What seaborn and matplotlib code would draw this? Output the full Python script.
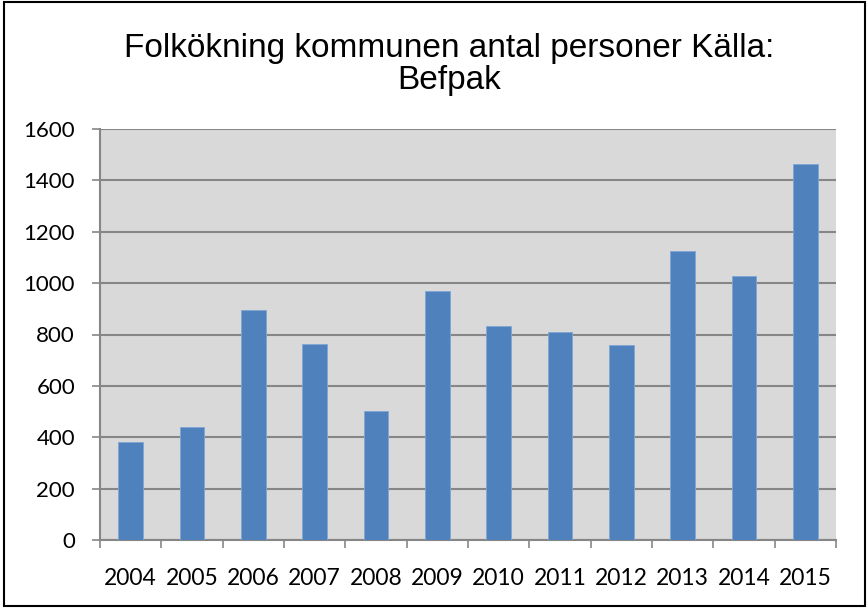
import matplotlib
matplotlib.use("Agg")
import matplotlib.pyplot as plt
import seaborn as sns
import pandas as pd
from matplotlib.patches import Rectangle
from matplotlib.ticker import FixedLocator

years = ["2004", "2005", "2006", "2007", "2008", "2009",
         "2010", "2011", "2012", "2013", "2014", "2015"]
values = [380, 438, 896, 764, 503, 969, 834, 809, 759, 1127, 1027, 1465]
yticks = [0, 200, 400, 600, 800, 1000, 1200, 1400, 1600]
title = "Folkökning kommunen antal personer Källa:\nBefpak"

sns.set_theme(style="white")
plt.rcParams["font.family"] = ["Liberation Sans", "DejaVu Sans"]

df = pd.DataFrame({"year": years, "value": values})

fig = plt.figure(figsize=(8.67, 6.08), dpi=100)
ax = fig.add_axes([100/867, 68/608, 736/867, 411/608])
ax.set_facecolor("#D9D9D9")

sns.barplot(data=df, x="year", y="value", color="#4F81BD", saturation=1,
            width=0.4, edgecolor="#7FA6D6", linewidth=0.6, ax=ax, zorder=3)

ax.set_ylim(0, 1600)
ax.set_xlim(-0.5, len(years) - 0.5)
ax.set_yticks(yticks)
ax.set_yticklabels([str(v) for v in yticks])
ax.yaxis.grid(True, color="#868686", linewidth=1.5, zorder=1)
ax.set_axisbelow(True)
ax.set_xlabel("")
ax.set_ylabel("")

for s in ["top", "right"]:
    ax.spines[s].set_visible(False)
for s in ["left", "bottom"]:
    ax.spines[s].set_color("#868686")
    ax.spines[s].set_linewidth(1.5)

ax.tick_params(axis="y", length=6, width=1.2, color="#868686", pad=12,
               labelsize=16, labelcolor="black", left=True)
ax.tick_params(axis="x", which="major", length=0, pad=20, labelsize=16.5,
               labelcolor="black")
ax.xaxis.set_minor_locator(FixedLocator([i - 0.5 for i in range(len(years) + 1)]))
ax.tick_params(axis="x", which="minor", length=6, width=1.2, color="#868686",
               bottom=True)
for lab in ax.get_xticklabels() + ax.get_yticklabels():
    lab.set_family(["Lato", "DejaVu Sans"])

fig.text(449/867, 1 - 64.5/608, title, ha="center", va="center", fontsize=24,
         linespacing=1.08, color="black",
         family=["Liberation Sans", "DejaVu Sans"])

fig.patches.append(Rectangle((4/867, 2/608), 861/867, 604/608,
                             transform=fig.transFigure, fill=False,
                             edgecolor="black", linewidth=1.5))

fig.savefig("out.png", dpi=100)
